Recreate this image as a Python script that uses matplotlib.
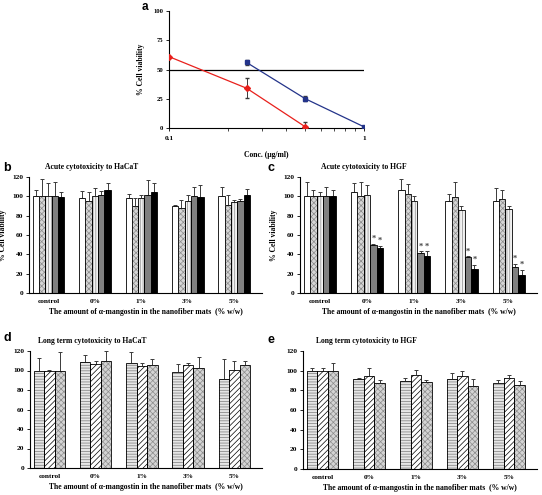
import matplotlib
matplotlib.use("Agg")
import matplotlib.pyplot as plt
from matplotlib.ticker import NullFormatter
import numpy as np

plt.rcParams['font.family'] = ['Liberation Serif', 'DejaVu Serif']
plt.rcParams['hatch.linewidth'] = 0.5

# ---------------- data ----------------
conc_red = [0.1, 0.25, 0.5]
via_red = [61, 34, 1]
err_red = [0, 8.5, 4]
conc_blue = [0.25, 0.5, 1.0]
via_blue = [56, 25, 1]
err_blue = [2, 2, 0.5]
a_yticks = [0, 25, 50, 75, 100]

groups = ['control', '0%', '1%', '3%', '5%']

b_vals = [[100, 100, 100, 100, 99],
          [98, 95, 100, 101, 107],
          [98, 90, 98, 101, 104],
          [90, 88, 95, 100, 99],
          [100, 91, 94, 95, 101]]
b_errs = [[7, 18, 14, 15, 5],
          [8, 9, 9, 5, 7],
          [4, 8, 3, 16, 10],
          [1, 8, 6, 10, 13],
          [10, 10, 2, 2, 7]]

c_vals = [[100, 100, 100, 100, 100],
          [104, 100, 101, 50, 47],
          [107, 102, 95, 41, 38],
          [95, 99, 86, 37, 25],
          [95, 97, 87, 27, 19]]
c_errs = [[15, 7, 4, 10, 7],
          [10, 15, 11, 1, 2],
          [11, 11, 5, 2, 5],
          [7, 16, 4, 1, 4],
          [14, 10, 3, 3, 5]]
c_star = [[0, 0, 0, 0, 0],
          [0, 0, 0, 1, 1],
          [0, 0, 0, 1, 1],
          [0, 0, 0, 1, 1],
          [0, 0, 0, 1, 1]]

d_vals = [[100, 100, 100],
          [109, 107, 110],
          [108, 105, 106],
          [98, 106, 103],
          [91, 101, 106]]
d_errs = [[13, 1, 19],
          [7, 3, 10],
          [11, 3, 6],
          [9, 2, 11],
          [21, 9, 4]]

e_vals = [[100, 100, 100],
          [92, 95, 87],
          [89, 96, 88],
          [92, 95, 84],
          [87, 93, 85]]
e_errs = [[3, 3, 8],
          [1, 8, 4],
          [4, 5, 3],
          [6, 5, 8],
          [4, 3, 5]]

bar_yticks = [0, 20, 40, 60, 80, 100, 120]
xlabel_txt = 'The amount of α-mangostin in the nanofiber mats  (% w/w)'

# styles: (facecolor, hatch, hatchcolor)
style5 = [('white', None, None),
          ('#d6d6d6', 'xxxxxx', '#8c8c8c'),
          ('#f2f2f2', '||||||', '#8c8c8c'),
          ('#808080', None, None),
          ('black', None, None)]
style3 = [('#e6e6e6', '------', '#7a7a7a'),
          ('white', '//////', 'black'),
          ('#d4d4d4', 'xxxxxx', '#8c8c8c')]

W, H = 542, 495
fig = plt.figure(figsize=(W / 100, H / 100), dpi=100)


def ax_px(l, r, t, b):
    return fig.add_axes([l / W, 1 - b / H, (r - l) / W, (b - t) / H])


TICK_FS = 5.3
LAB_FS = 5.5
ERR_C = '#3a3a3a'


def style_axes(ax):
    for s in ['top', 'right']:
        ax.spines[s].set_visible(False)
    for s in ['left', 'bottom']:
        ax.spines[s].set_linewidth(0.8)
    ax.tick_params(labelsize=TICK_FS, width=0.6, length=2, pad=2)
    for lab in ax.get_xticklabels() + ax.get_yticklabels():
        lab.set_fontweight('bold')


def bar_panel(ax, vals, errs, styles, title, stars=None):
    n = len(styles)
    gw = 0.68
    bw = gw / n
    x = np.arange(len(groups))
    for i in range(n):
        fc, hatch, hc = styles[i]
        xs = x - gw / 2 + bw * (i + 0.5)
        v = [row[i] for row in vals]
        e = [row[i] for row in errs]
        ax.errorbar(xs, v, yerr=[np.zeros(len(e)), e], fmt='none',
                    ecolor=ERR_C, elinewidth=0.7, capsize=1.5, capthick=0.7, zorder=1)
        if hatch:
            ax.bar(xs, v, bw, color=fc, edgecolor=hc, hatch=hatch, linewidth=0, zorder=2)
            ax.bar(xs, v, bw, fill=False, edgecolor='black', linewidth=0.6, zorder=3)
        else:
            ax.bar(xs, v, bw, color=fc, edgecolor='black', linewidth=0.6, zorder=2)
        if stars is not None:
            for j in range(len(groups)):
                if stars[j][i]:
                    ax.text(xs[j], v[j] + e[j] + 1, '*', ha='center', va='bottom',
                            fontsize=6, fontweight='bold', color='#444444')
    ax.set_xlim(-0.42, 4.6)
    ax.set_ylim(0, 120)
    ax.set_yticks(bar_yticks)
    ax.set_xticks(x)
    ax.set_xticklabels(groups)
    style_axes(ax)
    ax.tick_params(axis='x', length=0, pad=4)
    ax.set_xlabel(xlabel_txt, fontsize=LAB_FS, fontweight='bold', labelpad=3)
    ax.text(0.27, 1.05, title, transform=ax.transAxes, ha='center', va='bottom',
            fontsize=LAB_FS, fontweight='bold')


# ---------------- panel a ----------------
axa = ax_px(169, 364, 11, 128)
axa.set_xscale('log')
axa.plot([0.1, 1], [50, 50], color='black', lw=0.9, zorder=1)
axa.errorbar(conc_red, via_red, yerr=err_red, color='#e8201c', lw=0.9, marker='D',
             ms=3, ecolor=ERR_C, elinewidth=0.7, capsize=1.5, zorder=3)
axa.errorbar(conc_blue, via_blue, yerr=err_blue, color='#24348a', lw=0.9, marker='s',
             ms=3, ecolor=ERR_C, elinewidth=0.7, capsize=1.5, zorder=3)
axa.set_xlim(0.1, 1.0)
axa.set_ylim(0, 100)
axa.set_yticks(a_yticks)
axa.set_xticks([0.1, 1])
axa.set_xticklabels(['0.1', '1'])
axa.xaxis.set_minor_formatter(NullFormatter())
style_axes(axa)
axa.tick_params(axis='y', labelsize=4.8)
axa.tick_params(axis='x', which='minor', length=2, width=0.5)
axa.tick_params(axis='x', which='major', pad=4)
axa.set_ylabel('% Cell viability', fontsize=LAB_FS, fontweight='bold', labelpad=6)
axa.set_xlabel('Conc. (μg/ml)', fontsize=LAB_FS, fontweight='bold', labelpad=7)
fig.text(142 / W, 1 - 7 / H, 'a', fontsize=8.5, fontweight='bold',
         family='Liberation Sans', va='center', ha='left')

# ---------------- panel b ----------------
axb = ax_px(29, 262, 177, 293)
bar_panel(axb, b_vals, b_errs, style5, 'Acute cytotoxicity to HaCaT')
axb.set_ylabel('% Cell viability', fontsize=LAB_FS, fontweight='bold', labelpad=4)
fig.text(3 / W, 1 - 168 / H, 'b', fontsize=9, fontweight='bold',
         family='Liberation Sans', va='center', ha='left')

# ---------------- panel c ----------------
axc = ax_px(300, 537, 177, 293)
bar_panel(axc, c_vals, c_errs, style5, 'Acute cytotoxicity to HGF', stars=c_star)
axc.set_ylabel('% Cell viability', fontsize=LAB_FS, fontweight='bold', labelpad=4)
fig.text(268 / W, 1 - 168 / H, 'c', fontsize=9, fontweight='bold',
         family='Liberation Sans', va='center', ha='left')

# ---------------- panel d ----------------
axd = ax_px(30, 262, 351, 468)
bar_panel(axd, d_vals, d_errs, style3, 'Long term cytotoxicity to HaCaT')
fig.text(3 / W, 1 - 338 / H, 'd', fontsize=9, fontweight='bold',
         family='Liberation Sans', va='center', ha='left')

# ---------------- panel e ----------------
axe = ax_px(303, 537, 351, 469)
bar_panel(axe, e_vals, e_errs, style3, 'Long term cytotoxicity to HGF')
fig.text(268 / W, 1 - 340 / H, 'e', fontsize=9, fontweight='bold',
         family='Liberation Sans', va='center', ha='left')

fig.savefig('out.png', dpi=100)
